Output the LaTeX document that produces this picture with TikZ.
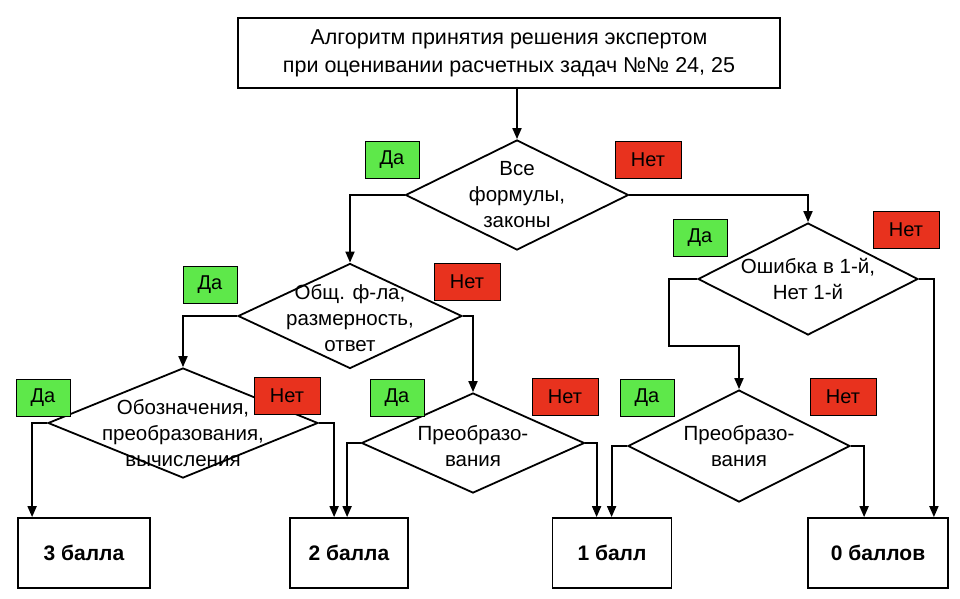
\documentclass[tikz,border=0pt]{standalone}
\usepackage{fontspec}
\setmainfont{Liberation Sans}
\usetikzlibrary{shapes.geometric,arrows.meta,calc}
\definecolor{gr}{HTML}{5EE84A}
\definecolor{rd}{HTML}{E8321E}
\begin{document}
\begin{tikzpicture}[x=1pt,y=-1pt,line width=1.8pt,
  dia/.style={diamond,draw,inner sep=0pt,minimum width=#1},
  txt/.style={align=center,font=\fontsize{20.5}{26}\selectfont},
  box/.style={draw,inner sep=0pt,font=\bfseries\fontsize{21}{24}\selectfont},
  yes/.style={draw,line width=1pt,fill=gr,minimum width=54pt,minimum height=37pt,inner sep=0pt,font=\fontsize{20}{22}\selectfont},
  no/.style={draw,line width=1pt,fill=rd,minimum width=66pt,minimum height=37pt,inner sep=0pt,font=\fontsize{20}{22}\selectfont},
  arr/.style={-{Triangle[length=11pt,width=9pt]}}]
\useasboundingbox (0,0) rectangle (960,598);
\node[draw,inner sep=0pt,font=\fontsize{21.5}{28}\selectfont,align=center,minimum width=542pt,minimum height=70pt] (T) at (509,53) {Алгоритм принятия решения экспертом\\при оценивании расчетных задач №№ 24, 25};
\node[dia=223pt,minimum height=110pt] (D1) at (517,195) {};
\node[dia=224pt,minimum height=105pt] (D2) at (350,316) {};
\node[dia=220pt,minimum height=112pt] (D3) at (808,279) {};
\node[dia=270pt,minimum height=110pt] (D4) at (183,423) {};
\node[dia=223pt,minimum height=100pt] (D5) at (473,443) {};
\node[dia=222pt,minimum height=112pt] (D6) at (739,446) {};
\node[txt] (t1) at (517,195) {Все\\формулы,\\законы};
\node[txt] (t2) at (350,318) {Общ. ф-ла,\\размерность,\\ответ};
\node[txt] (t3) at (808,279) {Ошибка в 1-й,\\Нет 1-й};
\node[txt] (t4) at (183,433) {Обозначения,\\преобразования,\\вычисления};
\node[txt] (t5) at (473,446) {Преобразо-\\вания};
\node[txt] (t6) at (739,446) {Преобразо-\\вания};
\node[box,minimum width=132pt,minimum height=70pt] (B3) at (84,553) {3 балла};
\node[box,minimum width=118pt,minimum height=70pt] (B2) at (349,553) {2 балла};
\node[box,minimum width=119pt,minimum height=70pt] (B1) at (612,553) {1 балл};
\node[box,minimum width=140pt,minimum height=70pt] (B0) at (878,553) {0 баллов};
\draw[arr] (T.south -| D1.north) -- (D1.north);
\draw[arr] (D1.west) -| (D2.north);
\draw[arr] (D1.east) -| (D3.north);
\draw[arr] (D2.west) -| (D4.north);
\draw[arr] (D2.east) -| (D5.north);
\coordinate (c1) at ($(D3.west)+(-28,0)$);
\coordinate (c2) at ($(D6.north)+(0,-43)$);
\draw[arr] (D3.west) -- (c1) |- (c2) -- (D6.north);
\draw[arr] (D3.east) -| ($(B0.north east)+(-15,0)$);
\draw[arr] (D4.west) -| ($(B3.north west)+(15,0)$);
\draw[arr] (D4.east) -| ($(B2.north west)+(45,0)$);
\draw[arr] (D5.west) -| ($(B2.north west)+(58,0)$);
\draw[arr] (D5.east) -| ($(B1.north west)+(45,0)$);
\draw[arr] (D6.west) -| ($(B1.north west)+(60,0)$);
\draw[arr] (D6.east) -| ($(B0.north west)+(57,0)$);
\node[yes] (y1) at (392,160) {Да};
\node[no] (n1) at (648,160) {Нет};
\node[yes] (y2) at (210,285) {Да};
\node[no] (n2) at (467,282) {Нет};
\node[yes] (y3) at (700,238) {Да};
\node[no] (n3) at (906,230) {Нет};
\node[yes] (y4) at (43,398) {Да};
\node[no] (n4) at (287,396) {Нет};
\node[yes] (y5) at (397,398) {Да};
\node[no] (n5) at (565,397) {Нет};
\node[yes] (y6) at (647,398) {Да};
\node[no] (n6) at (843,397) {Нет};
\end{tikzpicture}
\end{document}
